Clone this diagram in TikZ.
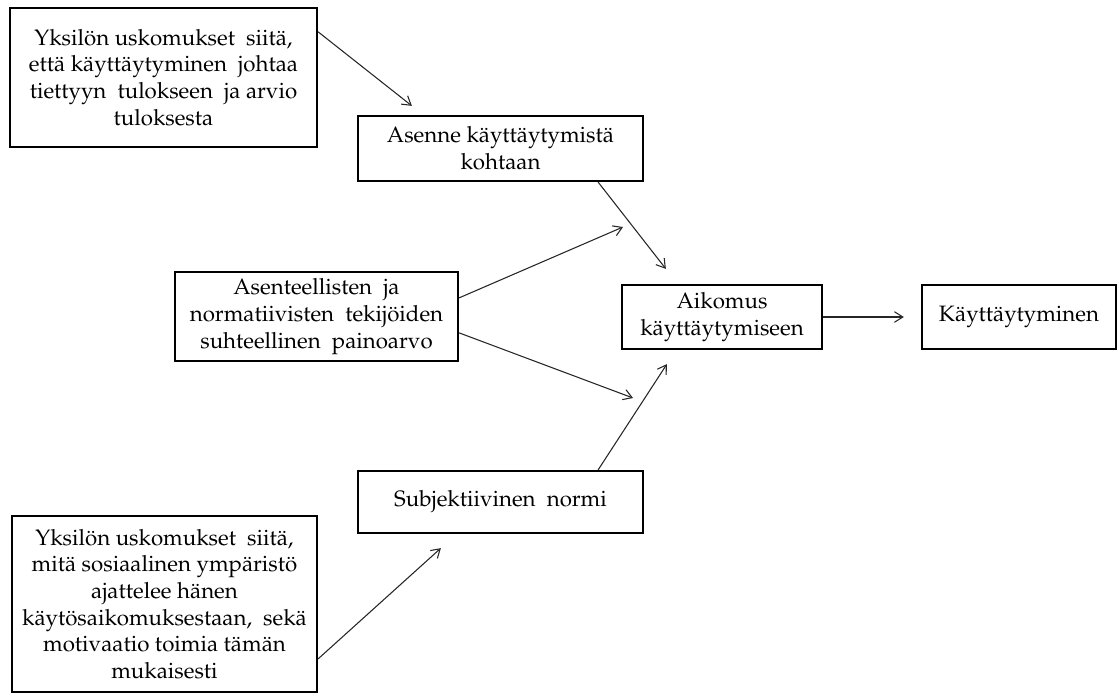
\documentclass[tikz,border=0pt]{standalone}
\IfFileExists{mathpazo.sty}{\usepackage[T1]{fontenc}\usepackage{mathpazo}}{\usepackage{fontspec}\setmainfont{Liberation Serif}}
\usetikzlibrary{arrows.meta,calc}

\begin{document}
\begin{tikzpicture}[x=0.75pt,y=-0.75pt,
  pbox/.style={draw=black,line width=1.7pt,fill=white,align=center,inner sep=0pt,
    font=\fontsize{16.7}{20}\selectfont},
  link/.style={draw=black!85,line width=0.8pt,-{Straight Barb[angle=64:7.5pt,line width=0.8pt]}}]
  \useasboundingbox (0,0) rectangle (1119,695);

  % boxes (centres and sizes in pixel units)
  \node[pbox,minimum width=307*0.75pt,minimum height=139*0.75pt] (beliefs) at (163.5,77.5)
    {Yksilön uskomukset\ \ siitä,\\että käyttäytyminen\ \ johtaa\\tiettyyn\ \ tulokseen\ \ ja arvio\\tuloksesta};
  \node[pbox,minimum width=285*0.75pt,minimum height=65*0.75pt] (attitude) at (500.5,148.5)
    {Asenne käyttäytymistä\\kohtaan};
  \node[pbox,minimum width=283*0.75pt,minimum height=89*0.75pt] (weight) at (316.5,316.5)
    {Asenteellisten\ \ ja\\normatiivisten\ \ tekijöiden\\suhteellinen\ \ painoarvo};
  \node[pbox,minimum width=200*0.75pt,minimum height=64*0.75pt] (intent) at (722,317)
    {Aikomus\\käyttäytymiseen};
  \node[pbox,minimum width=194*0.75pt,minimum height=64*0.75pt] (behave) at (1019,317)
    {Käyttäytyminen};
  \node[pbox,minimum width=285*0.75pt,minimum height=62*0.75pt] (norm) at (500.5,502)
    {Subjektiivinen\ \ normi};
  \node[pbox,minimum width=305*0.75pt,minimum height=176*0.75pt] (social) at (164.5,604)
    {Yksilön uskomukset\ \ siitä,\\mitä sosiaalinen ympäristö\\ajattelee hänen\\käytösaikomuksestaan,\ \ sekä\\motivaatio toimia tämän\\mukaisesti};

  % free arrow ends
  \coordinate (toAttitude) at ($(attitude.north west)+(55,-9)$);
  \coordinate (toIntentTop) at ($(intent.north west)+(45,-15)$);
  \coordinate (weightUp) at (623,227);
  \coordinate (weightDown) at (633,398);
  \coordinate (toIntentBottom) at ($(intent.south west)+(46,14)$);
  \coordinate (toNorm) at ($(norm.south west)+(84,14)$);
  \coordinate (toBehave) at ($(behave.west)+(-17,0)$);

  % connectors
  \draw[link] ($(beliefs.north east)+(0,25)$) -- (toAttitude);
  \draw[link] ($(attitude.south east)+(-46,0)$) -- (toIntentTop);
  \draw[link] ($(weight.north east)+(0,27)$) -- (weightUp);
  \draw[link] ($(weight.north east)+(0,62)$) -- (weightDown);
  \draw[link] ($(norm.north east)+(-46,0)$) -- (toIntentBottom);
  \draw[link] ($(social.north east)+(0,144)$) -- (toNorm);
  \draw[link] (intent.east) -- (toBehave);
\end{tikzpicture}
\end{document}
